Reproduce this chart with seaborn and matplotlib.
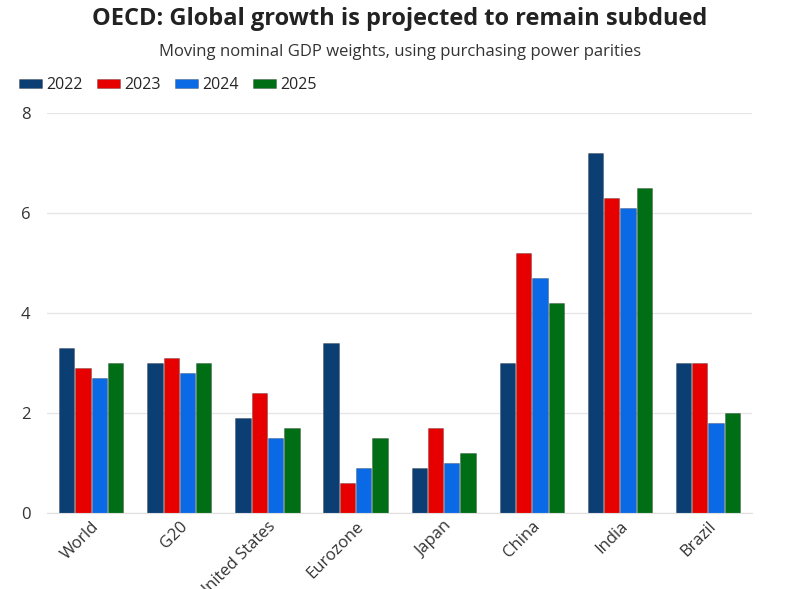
import pandas as pd
import matplotlib.pyplot as plt
import seaborn as sns

# Chart values
countries = ['World', 'G20', 'United States', 'Eurozone', 'Japan', 'China', 'India', 'Brazil']
years = ['2022', '2023', '2024', '2025']
growth_2022 = [3.3, 3.0, 1.9, 3.4, 0.9, 3.0, 7.2, 3.0]
growth_2023 = [2.9, 3.1, 2.4, 0.6, 1.7, 5.2, 6.3, 3.0]
growth_2024 = [2.7, 2.8, 1.5, 0.9, 1.0, 4.7, 6.1, 1.8]
growth_2025 = [3.0, 3.0, 1.7, 1.5, 1.2, 4.2, 6.5, 2.0]
colors = ['#0b3f73', '#e60000', '#0a6ae6', '#006e14']

# Long format for seaborn
rows = []
for year, vals in zip(years, [growth_2022, growth_2023, growth_2024, growth_2025]):
    for c, v in zip(countries, vals):
        rows.append({'Country': c, 'Year': year, 'Growth': v})
df = pd.DataFrame(rows)

sns.set_style('white')
plt.rcParams['font.family'] = ['Open Sans', 'DejaVu Sans']

fig = plt.figure(figsize=(8, 5.89), dpi=100)
ax = fig.add_axes([0.059, 0.129, 0.881, 0.679])

sns.barplot(data=df, x='Country', y='Growth', hue='Year', palette=colors,
            saturation=1, width=0.74, gap=0.06, ax=ax, edgecolor='#22222255', linewidth=0.6)

ax.set_ylim(0, 8)
ax.set_yticks([0, 2, 4, 6, 8])
ax.yaxis.grid(True, color='#e6e6e6', linewidth=1)
ax.set_axisbelow(True)
for s in ['top', 'right', 'left']:
    ax.spines[s].set_visible(False)
ax.spines['bottom'].set_color('#e0e0e0')
ax.set_xlabel('')
ax.set_ylabel('')
ax.tick_params(axis='both', length=0, colors='#333333', labelsize=12)
ax.tick_params(axis='y', pad=12)
ax.tick_params(axis='x', pad=4)
plt.setp(ax.get_xticklabels(), rotation=45, ha='right', rotation_mode='anchor')

fig.text(0.5, 0.968, 'OECD: Global growth is projected to remain subdued', ha='center', va='center',
         fontsize=17, fontweight='bold', color='#222222')
fig.text(0.5, 0.911, 'Moving nominal GDP weights, using purchasing power parities', ha='center', va='center',
         fontsize=12, color='#333333')

ax.legend(title=None, loc='upper left', bbox_to_anchor=(-0.06, 1.125), ncol=4, frameon=False,
          handlelength=1.4, handleheight=0.5, handletextpad=0.3, columnspacing=0.9, fontsize=11.5)

fig.savefig('out.png', dpi=100)
